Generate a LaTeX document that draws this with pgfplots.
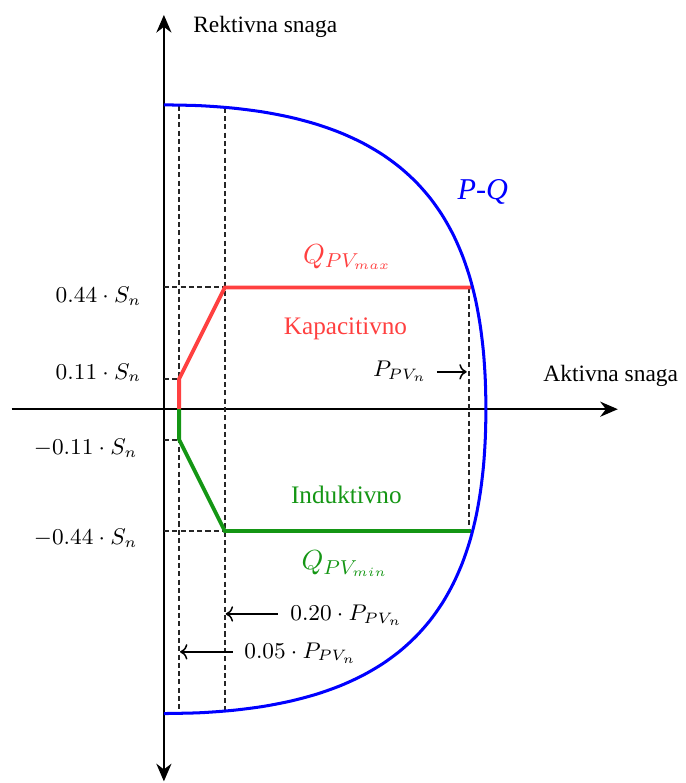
\documentclass[border=0pt]{standalone}
\usepackage{fontspec}
\setmainfont{Liberation Serif}
\usepackage{pgfplots}
\pgfplotsset{compat=1.18}
\usetikzlibrary{arrows.meta}
\definecolor{qmax}{RGB}{255,64,64}
\definecolor{qmin}{RGB}{20,150,20}
\tikzset{
  guide/.style={black!85, line width=0.8pt, dash pattern=on 2pt off 1.3pt},
  mlabel/.style={font=\fontsize{9.2}{11}\selectfont},
  tlabel/.style={font=\fontsize{9.3}{11}\selectfont},
}

\begin{document}
\begin{tikzpicture}
\begin{axis}[
  x=120.9pt, y=109.8pt,
  xmin=-0.5, xmax=1.49, ymin=-1.345, ymax=1.425,
  axis lines=middle,
  axis line style={line width=0.8pt},
  x axis line style={-{Stealth[length=7pt,width=6pt]}},
  y axis line style={{Stealth[length=7pt,width=6pt]}-{Stealth[length=7pt,width=6pt]}},
  xtick=\empty, ytick=\empty,
  clip=false,
]
% helper lines
\addplot[guide] coordinates {(0.05,1.097) (0.05,-1.097)};
\addplot[guide] coordinates {(0.2,1.090) (0.2,-1.090)};
\addplot[guide] coordinates {(1.0,0.44) (1.0,-0.44)};
\addplot[guide] coordinates {(0,0.44) (0.2,0.44)};
\addplot[guide] coordinates {(0,-0.44) (0.2,-0.44)};
\addplot[guide] coordinates {(0,0.11) (0.05,0.11)};
\addplot[guide] coordinates {(0,-0.11) (0.05,-0.11)};

% reactive power limits
\addplot[qmax, line width=1.5pt] coordinates {(0.05,0) (0.05,0.11) (0.2,0.44) (1.008,0.44)};
\addplot[qmin, line width=1.5pt] coordinates {(0.05,0) (0.05,-0.11) (0.2,-0.44) (1.008,-0.44)};

% P-Q capability curve
\addplot[blue, line width=1.2pt, smooth] coordinates {
  (0,1.1000) (0.1160,1.0972) (0.2240,1.0886) (0.3243,1.0745) (0.4171,1.0547)
  (0.5027,1.0294) (0.5811,0.9985) (0.6527,0.9621) (0.7177,0.9202) (0.7762,0.8728)
  (0.8285,0.8200) (0.8748,0.7618) (0.9153,0.6982) (0.9503,0.6293) (0.9799,0.5551)
  (1.0044,0.4756) (1.0239,0.3909) (1.0386,0.3009) (1.0490,0.2058) (1.0550,0.1054)
  (1.0570,0)
  (1.0550,-0.1054) (1.0490,-0.2058) (1.0386,-0.3009) (1.0239,-0.3909) (1.0044,-0.4756)
  (0.9799,-0.5551) (0.9503,-0.6293) (0.9153,-0.6982) (0.8748,-0.7618) (0.8285,-0.8200)
  (0.7762,-0.8728) (0.7177,-0.9202) (0.6527,-0.9621) (0.5811,-0.9985) (0.5027,-1.0294)
  (0.4171,-1.0547) (0.3243,-1.0745) (0.2240,-1.0886) (0.1160,-1.0972) (0,-1.1000)
};

% labels
\node[tlabel, anchor=base west, inner sep=0] at (axis cs:0.095,1.360) {Rektivna snaga};
\node[tlabel, anchor=base west, inner sep=0] at (axis cs:1.244,0.100) {Aktivna snaga};
\node[mlabel, anchor=base east, inner sep=0] at (axis cs:-0.073,0.384) {$0.44\cdot S_n$};
\node[mlabel, anchor=base east, inner sep=0] at (axis cs:-0.073,0.108) {$0.11\cdot S_n$};
\node[mlabel, anchor=base east, inner sep=0] at (axis cs:-0.085,-0.165) {$-0.11\cdot S_n$};
\node[mlabel, anchor=base east, inner sep=0] at (axis cs:-0.085,-0.490) {$-0.44\cdot S_n$};

\node[anchor=base, text=blue, font=\large\itshape] at (axis cs:1.047,0.759) {P-Q};
\node[anchor=base, text=qmax, font=\fontsize{10.8}{13}\selectfont] at (axis cs:0.602,0.528) {$Q_{PV_{max}}$};
\node[anchor=base, text=qmax] at (axis cs:0.596,0.271) {Kapacitivno};
\node[anchor=base, text=qmin] at (axis cs:0.599,-0.342) {Induktivno};
\node[anchor=base, text=qmin, font=\fontsize{10.8}{13}\selectfont] at (axis cs:0.594,-0.581) {$Q_{PV_{min}}$};

\node[mlabel, anchor=base] at (axis cs:0.775,0.118) {$P_{PV_n}$};
\draw[->, line width=0.6pt] (axis cs:0.896,0.135) -- (axis cs:0.994,0.135);
\node[mlabel, anchor=base] at (axis cs:0.599,-0.764) {$0.20\cdot P_{PV_n}$};
\draw[->, line width=0.6pt] (axis cs:0.374,-0.740) -- (axis cs:0.203,-0.740);
\node[mlabel, anchor=base] at (axis cs:0.448,-0.900) {$0.05\cdot P_{PV_n}$};
\draw[->, line width=0.6pt] (axis cs:0.226,-0.877) -- (axis cs:0.053,-0.877);

\coordinate (bl) at (axis cs:-0.538,-1.351);
\coordinate (tr) at (axis cs:1.713,1.479);
\end{axis}
\pgfresetboundingbox
\path[use as bounding box] (bl) rectangle (tr);
\end{tikzpicture}
\end{document}
